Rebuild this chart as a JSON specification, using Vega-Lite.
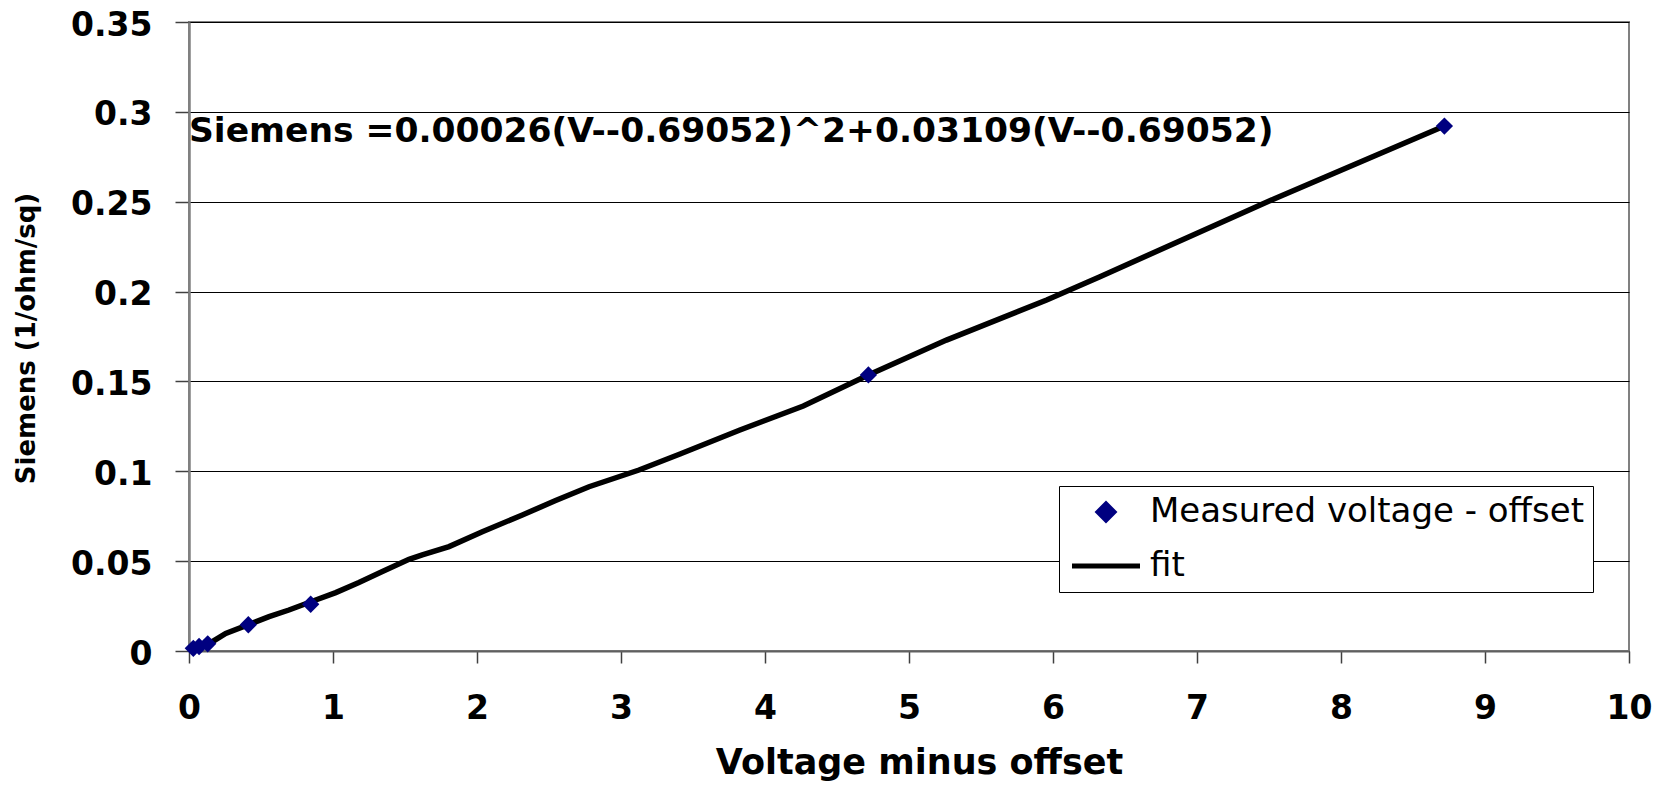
{
  "$schema": "https://vega.github.io/schema/vega-lite/v6.json",
  "width": 1440,
  "height": 629,
  "autosize": {"type": "none"},
  "padding": {"left": 189, "top": 22, "right": 38, "bottom": 140},
  "background": "white",
  "config": {
    "view": {"stroke": "#808080", "strokeWidth": 2},
    "font": "DejaVu Sans"
  },
  "datasets": {
    "measured": [
      {"V": 0.03, "S": 0.0015, "series": "Measured voltage - offset"},
      {"V": 0.07, "S": 0.0025, "series": "Measured voltage - offset"},
      {"V": 0.13, "S": 0.004, "series": "Measured voltage - offset"},
      {"V": 0.412, "S": 0.0146, "series": "Measured voltage - offset"},
      {"V": 0.845, "S": 0.026, "series": "Measured voltage - offset"},
      {"V": 4.718, "S": 0.1536, "series": "Measured voltage - offset"},
      {"V": 8.718, "S": 0.2921, "series": "Measured voltage - offset"}
    ],
    "fit": [
      {"V": 0.03, "S": 0.0012, "series": "fit"},
      {"V": 0.162, "S": 0.0052, "series": "fit"},
      {"V": 0.255, "S": 0.0098, "series": "fit"},
      {"V": 0.556, "S": 0.0191, "series": "fit"},
      {"V": 0.694, "S": 0.0228, "series": "fit"},
      {"V": 0.88, "S": 0.0284, "series": "fit"},
      {"V": 1.019, "S": 0.0325, "series": "fit"},
      {"V": 1.18, "S": 0.0381, "series": "fit"},
      {"V": 1.343, "S": 0.0442, "series": "fit"},
      {"V": 1.528, "S": 0.051, "series": "fit"},
      {"V": 1.62, "S": 0.0535, "series": "fit"},
      {"V": 1.806, "S": 0.0581, "series": "fit"},
      {"V": 2.037, "S": 0.0664, "series": "fit"},
      {"V": 2.315, "S": 0.0757, "series": "fit"},
      {"V": 2.546, "S": 0.0837, "series": "fit"},
      {"V": 2.778, "S": 0.0914, "series": "fit"},
      {"V": 3.125, "S": 0.1007, "series": "fit"},
      {"V": 3.41, "S": 0.1096, "series": "fit"},
      {"V": 3.826, "S": 0.123, "series": "fit"},
      {"V": 4.266, "S": 0.1363, "series": "fit"},
      {"V": 4.718, "S": 0.1536, "series": "fit"},
      {"V": 5.26, "S": 0.173, "series": "fit"},
      {"V": 5.956, "S": 0.1953, "series": "fit"},
      {"V": 6.326, "S": 0.2083, "series": "fit"},
      {"V": 7.53, "S": 0.2514, "series": "fit"},
      {"V": 8.71, "S": 0.2918, "series": "fit"}
    ],
    "note": [
      {"V": 0, "S": 0.283, "label": "Siemens =0.00026(V--0.69052)^2+0.03109(V--0.69052)"}
    ]
  },
  "encoding": {
    "x": {
      "field": "V", "type": "quantitative",
      "scale": {"domain": [0, 10], "nice": false, "zero": true},
      "axis": {
        "values": [0, 1, 2, 3, 4, 5, 6, 7, 8, 9, 10],
        "grid": false,
        "domainColor": "#606060", "domainWidth": 2,
        "tickColor": "#404040", "tickSize": 12, "tickWidth": 1.5,
        "labelFont": "DejaVu Sans", "labelFontWeight": "bold", "labelFontSize": 33,
        "labelColor": "black", "labelPadding": 55, "labelBaseline": "alphabetic",
        "labelFlush": false, "labelOverlap": false,
        "title": "Voltage minus offset",
        "titleFont": "DejaVu Sans", "titleFontWeight": "bold", "titleFontSize": 35,
        "titleColor": "black", "titleX": 730, "titleY": 122,
        "titleBaseline": "alphabetic", "titleAlign": "center"
      }
    },
    "y": {
      "field": "S", "type": "quantitative",
      "scale": {"domain": [0, 0.35], "nice": false, "zero": true},
      "axis": {
        "values": [0, 0.05, 0.1, 0.15, 0.2, 0.25, 0.3, 0.35],
        "format": "~g",
        "grid": true, "gridColor": "black", "gridWidth": 1,
        "domainColor": "#808080", "domainWidth": 2.5,
        "tickColor": "#404040", "tickSize": 14, "tickWidth": 1.5,
        "labelFont": "DejaVu Sans", "labelFontWeight": "bold", "labelFontSize": 33,
        "labelColor": "black", "labelPadding": 23, "labelBaseline": "alphabetic",
        "labelOffset": 13, "labelFlush": false, "labelOverlap": false,
        "title": "Siemens (1/ohm/sq)",
        "titleFont": "DejaVu Sans", "titleFontWeight": "bold", "titleFontSize": 26,
        "titleColor": "black", "titleX": -163, "titleY": 316, "titleAngle": 270,
        "titleBaseline": "middle", "titleAlign": "center"
      }
    }
  },
  "layer": [
    {
      "data": {"name": "fit"},
      "mark": {"type": "line", "strokeWidth": 5.5, "interpolate": "linear"},
      "encoding": {
        "color": {
          "field": "series", "type": "nominal",
          "scale": {"domain": ["Measured voltage - offset", "fit"], "range": ["#000080", "#000000"]},
          "legend": {
            "title": null,
            "orient": "none", "legendX": 870, "legendY": 464,
            "direction": "vertical",
            "strokeColor": "black", "fillColor": "white", "padding": 9,
            "labelFont": "DejaVu Sans", "labelFontSize": 34, "labelColor": "black",
            "labelLimit": 0,
            "labelOffset": 27, "symbolOffset": 21, "rowPadding": 19,
            "symbolSize": 4624, "symbolType": "stroke", "symbolStrokeWidth": 5,
            "encode": {
              "symbols": {
                "update": {
                  "shape": {"signal": "datum.value === 'fit' ? 'stroke' : 'diamond'"},
                  "size": {"signal": "datum.value === 'fit' ? 4624 : 250"},
                  "fill": {"signal": "datum.value === 'fit' ? 'transparent' : '#000080'"},
                  "stroke": {"signal": "datum.value === 'fit' ? '#000000' : 'transparent'"},
                  "strokeWidth": {"value": 5},
                  "opacity": {"value": 1}
                }
              }
            }
          }
        }
      }
    },
    {
      "data": {"name": "measured"},
      "mark": {"type": "point", "shape": "diamond", "filled": true, "size": 300, "opacity": 1},
      "encoding": {
        "color": {"field": "series", "type": "nominal"}
      }
    },
    {
      "data": {"name": "note"},
      "mark": {"type": "text", "align": "left", "baseline": "alphabetic", "font": "DejaVu Sans", "fontWeight": "bold", "fontSize": 34.5, "color": "black"},
      "encoding": {
        "text": {"field": "label", "type": "nominal"}
      }
    }
  ]
}
